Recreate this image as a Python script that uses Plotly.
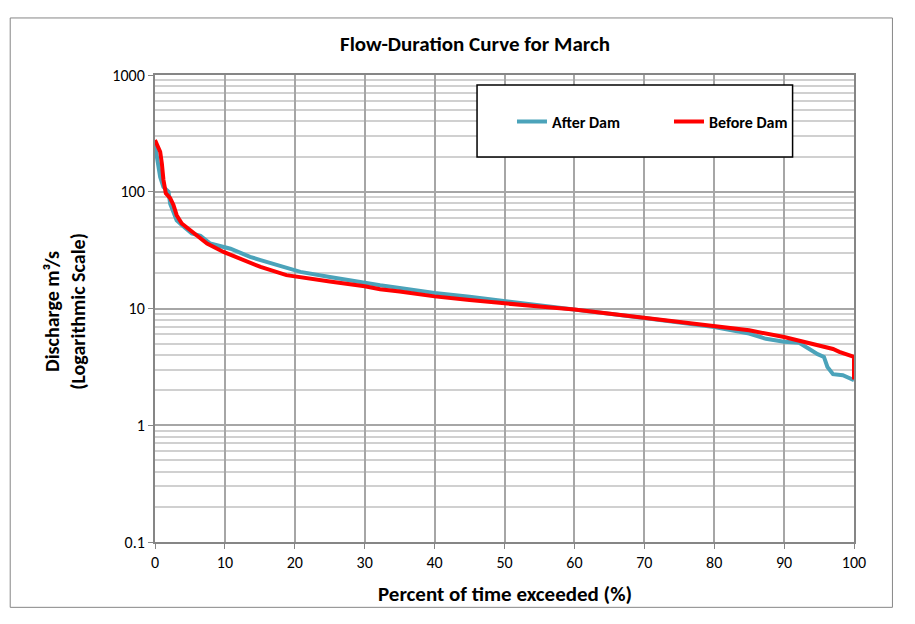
import plotly.graph_objects as go

after_pct = [0, 0.5, 0.74, 1.2, 1.93, 2.17, 2.64, 3.1, 3.83, 5.26, 6.5, 7.9, 10.8, 13.6, 15.1,
             19.4, 20.8, 25, 30, 32.2, 35, 40, 45, 50, 55, 60, 65, 70, 75, 80, 85, 87.4, 90,
             92.1, 93.6, 94.8, 95.7, 96.2, 97, 98.4, 100]
after_q = [250, 175, 134, 110, 100, 79, 67, 57, 52, 44, 42, 36, 32.5, 27.7, 26,
           22, 20.6, 18.6, 16.5, 15.8, 15.0, 13.6, 12.6, 11.6, 10.8, 9.8, 9.0, 8.3, 7.6, 6.95,
           6.1, 5.5, 5.2, 5.1, 4.5, 4.06, 3.85, 3.16, 2.74, 2.68, 2.43]

before_pct = [0, 0.74, 0.98, 1.21, 1.55, 2.17, 2.64, 3.1, 3.83, 5.0, 6.26, 7.45, 9.8, 12.2,
              15.1, 18.8, 20, 25, 30, 32.2, 35, 40, 45, 50, 55, 60, 65, 70, 75, 77.9, 80, 85,
              90, 94.6, 97, 97.9, 99.6, 100, 100]
before_q = [277, 220, 175, 126, 97, 88, 77, 63, 53.5, 47, 41, 36, 30.5, 26.8,
            22.7, 19.3, 18.9, 17.0, 15.5, 14.6, 14.0, 12.7, 11.8, 11.0, 10.4, 9.8, 9.0, 8.3,
            7.7, 7.3, 7.1, 6.5, 5.7, 4.9, 4.5, 4.25, 3.9, 3.85, 2.46]

y_tick_vals = [0.1, 1, 10, 100, 1000]
y_tick_text = ["0.1", "1", "10", "100", "1000"]
x_tick_vals = [0, 10, 20, 30, 40, 50, 60, 70, 80, 90, 100]

minor_vals = [m * 10 ** e for e in (-1, 0, 1, 2) for m in range(2, 10)]

FONT = "Carlito, Calibri, Lato, sans-serif"

fig = go.Figure()
fig.add_trace(go.Scatter(x=after_pct, y=after_q, mode="lines", name="<b>After Dam</b>",
                         line=dict(color="#4BA3BA", width=4)))
fig.add_trace(go.Scatter(x=before_pct, y=before_q, mode="lines", name="<b>Before Dam</b>",
                         line=dict(color="#FF0000", width=4)))

L, R, T, B = 154.5, 60.5, 75, 82.3
W, H = 915, 624
pw, ph = W - L - R, H - T - B

def px(xp):
    return (xp - L) / pw

def py(yp):
    return (H - B - yp) / ph

fig.update_layout(
    width=W, height=H,
    margin=dict(l=L, r=R, t=T, b=B, autoexpand=False),
    paper_bgcolor="white", plot_bgcolor="white",
    font=dict(family=FONT, size=16, color="black"),
    title=dict(text="<b>Flow-Duration Curve for March</b>", x=475 / W, xanchor="center",
               xref="container", y=1 - 44 / H, yanchor="middle", font=dict(size=21)),
    xaxis=dict(range=[0, 100], tickvals=x_tick_vals, showgrid=True, gridcolor="#A6A6A6",
               gridwidth=1.5, showline=True, linecolor="#868686", linewidth=2, mirror=True,
               ticks="outside", ticklen=5, tickcolor="#868686", zeroline=False),
    yaxis=dict(type="log", range=[-1, 3], tickvals=y_tick_vals, ticktext=y_tick_text,
               showgrid=True, gridcolor="#A6A6A6", gridwidth=1.5, showline=True,
               linecolor="#868686", linewidth=2, mirror=True, ticks="outside", ticklen=5,
               tickcolor="#868686", zeroline=False,
               minor=dict(tickvals=minor_vals, showgrid=True, gridcolor="#D0D0D0",
                          gridwidth=1.5, ticks="")),
    showlegend=True,
    legend=dict(orientation="h", x=px(512), y=py(121.5), xanchor="left", yanchor="middle",
                bgcolor="rgba(0,0,0,0)", borderwidth=0, entrywidth=112,
                entrywidthmode="pixels", font=dict(size=16), traceorder="normal"),
)

fig.add_shape(type="rect", xref="paper", yref="paper", x0=px(477), x1=px(793),
              y0=py(157), y1=py(85), line=dict(color="black", width=1.5),
              fillcolor="white", layer="above")
fig.add_shape(type="rect", xref="paper", yref="paper", x0=px(9.5), x1=px(893),
              y0=py(607), y1=py(18), line=dict(color="#868686", width=1), layer="below")

fig.add_annotation(text="<b>Discharge m³/s<br>(Logarithmic Scale)</b>", xref="paper",
                   yref="paper", x=px(65), y=py(311), textangle=-90, showarrow=False,
                   xanchor="center", yanchor="middle", font=dict(size=20))
fig.add_annotation(text="<b>Percent of time exceeded (%)</b>", xref="paper", yref="paper",
                   x=px(505), y=py(594), showarrow=False, xanchor="center",
                   yanchor="middle", font=dict(size=21))

fig.write_html("out.html", config={"displayModeBar": False},
               post_script="document.body.style.margin='0';")
